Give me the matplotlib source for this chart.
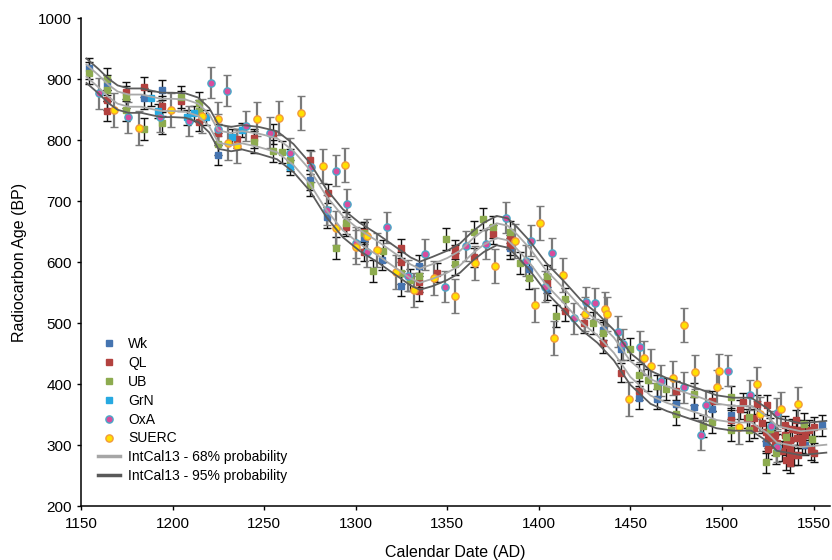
import numpy as np
import matplotlib
matplotlib.use("Agg")
import matplotlib.pyplot as plt
from matplotlib.lines import Line2D

plt.rcParams['font.family'] = ['Liberation Sans', 'DejaVu Sans']

# ---------------- data ----------------
# IntCal13 curve (centre) and 1-sigma
cal_years = [1153, 1159.5, 1165, 1170, 1176, 1183, 1189, 1194, 1200, 1207, 1214, 1220,
             1225, 1232, 1238, 1247, 1257, 1266, 1275, 1284, 1293, 1302, 1312, 1321,
             1330, 1335, 1342, 1350, 1357, 1364, 1370, 1377, 1383, 1388, 1395, 1404,
             1414, 1423, 1432, 1441, 1450, 1455, 1461, 1470, 1479, 1488, 1497, 1506,
             1516, 1525, 1530, 1543, 1557]
cal_bp = [914, 897, 881, 870, 865, 865, 861, 858, 858, 857, 850, 833,
          806, 802, 805, 800, 792, 771, 740, 697, 664, 642, 623, 604,
          585, 578, 585, 595, 607, 627, 641, 652, 648, 634, 611, 575,
          544, 514, 492, 464, 425, 412, 395, 383, 374, 365, 355, 351,
          351, 333, 318, 310, 314]
cal_sigma = [10, 10, 10, 10, 10, 10, 10, 10, 10, 10, 10, 10,
             10, 10, 10, 11, 11.5, 11.5, 11.5, 11.5, 11.5, 11.5, 11.5, 11.5,
             11.5, 11.5, 12, 12, 12, 12, 12, 12, 12, 12, 12, 12,
             12, 12, 12, 12.5, 13, 13.5, 13.5, 13.5, 13.5, 13.5, 13.5, 13.5,
             13.5, 13.5, 13.5, 13, 13]

wk_year = [1154.4, 1164.4, 1184.6, 1194.4, 1225.0, 1274.8, 1284.3, 1304.6, 1314.6, 1324.7,
           1334.3, 1384.4, 1394.4, 1404.5, 1434.9, 1444.9, 1454.5, 1464.6, 1475.1, 1485.0,
           1494.6, 1505.0, 1524.3, 1545.1, 1554.4]
wk_bp = [918, 890.7, 868.9, 882.5, 776, 735, 673.8, 639.3, 603.8, 561.1,
         594.4, 623, 588.5, 555.7, 489, 457.4, 377, 375.9, 367.7, 362.3,
         359, 349.7, 304.3, 300.5, 332.8]

ql_year = [1164.4, 1164.4, 1174.4, 1184.6, 1194.4, 1204.5, 1214.6, 1225.0, 1235.1, 1244.2,
           1254.8, 1275.1, 1284.8, 1294.6, 1304.6, 1304.6, 1324.7, 1324.7, 1334.3, 1334.3,
           1344.4, 1354.4, 1354.4, 1364.4, 1374.8, 1384.4, 1384.4, 1404.5, 1414.5, 1424.5,
           1434.9, 1444.9, 1454.5, 1475.1, 1494.6, 1505.0, 1510.1, 1511.4, 1513.9, 1517.4,
           1517.4, 1519.2, 1521.9, 1523.8, 1524.7, 1525.0, 1525.2, 1528.3, 1529.2, 1529.2,
           1530.2, 1533.0, 1534.3, 1534.3, 1534.8, 1534.8, 1535.6, 1536.9, 1537.0, 1537.0,
           1537.4, 1537.4, 1538.5, 1539.2, 1540.5, 1541.1, 1541.2, 1541.6, 1542.9, 1543.8,
           1543.8, 1545.1, 1547.4, 1548.4, 1550.2, 1550.2]
ql_bp = [866, 848, 879.7, 887, 856, 864.4, 830.5, 811.5, 802.6, 803.3,
         810.3, 767.7, 713, 658.4, 650.2, 617.4, 623, 601, 567.2, 553,
         583, 621.3, 612, 608.2, 645.9, 637.7, 628.4, 565.6, 520.2, 500,
         467.2, 419, 389.5, 389.5, 372.6, 341.5, 359, 370.5, 344.3, 327.9,
         344.3, 367.2, 336.1, 322.3, 366.1, 311.5, 293.9, 313.1, 300.5, 316.9,
         303.3, 290.7, 332.8, 317, 300.5, 275.9, 305.9, 270.5, 293.4, 281.3,
         308.7, 289.5, 326.7, 284.1, 341.5, 311.5, 325.1, 284.1, 325.1, 311.5,
         303.3, 316.9, 325.1, 292.3, 330.5, 287.9]

ub_year = [1154.4, 1164.4, 1164.4, 1174.4, 1174.4, 1184.6, 1194.4, 1204.5, 1214.6, 1214.6,
           1225.0, 1244.2, 1255.1, 1259.7, 1264.2, 1274.8, 1289.3, 1294.6, 1304.6, 1309.7,
           1314.9, 1324.7, 1329.4, 1334.3, 1349.5, 1354.4, 1364.4, 1369.5, 1374.8, 1384.4,
           1389.5, 1394.4, 1404.5, 1409.6, 1414.5, 1429.4, 1434.9, 1449.6, 1454.5, 1459.5,
           1464.6, 1469.7, 1475.1, 1485.0, 1489.5, 1494.6, 1505.0, 1505.0, 1514.6, 1515.0,
           1524.3, 1526.5, 1529.6, 1534.9, 1544.7, 1549.3]
ub_bp = [909.8, 900, 882.5, 870.5, 849.7, 818, 828.9, 870.5, 861.6, 848,
         793.4, 797.7, 782.5, 780.3, 767.7, 726.7, 623, 664, 648, 585.7,
         619, 582, 571, 578, 637.7, 597.2, 650.2, 670.5, 658.4, 650.2,
         599.3, 573.8, 577.5, 512, 539.3, 500, 483.6, 457.4, 415.2, 407,
         397.2, 391.8, 350.8, 384, 332.1, 338.7, 378.7, 325.1, 325.1, 345.9,
         273.1, 326.7, 286.9, 313.1, 334.9, 309.8]

grn_year = [1188.1, 1191.9, 1208.1, 1211.9, 1218.1, 1232.7, 1237.8, 1264.2]
grn_bp = [868.9, 848, 837.7, 844.3, 837.7, 805.9, 816.9, 755.7]

oxa_year = [1159.8, 1175.8, 1193.2, 1209.0, 1220.9, 1229.9, 1225.0, 1240.0, 1253.3, 1264.2,
            1275.7, 1284.3, 1289.2, 1295.2, 1300.1, 1306.1, 1317.0, 1328.3, 1338.0, 1348.9,
            1360.2, 1371.1, 1382.1, 1393.2, 1395.9, 1403.2, 1407.2, 1419.0, 1426.0, 1430.9,
            1443.3, 1446.0, 1455.1, 1466.9, 1479.1, 1488.3, 1491.4, 1503.2, 1515.2, 1527.0,
            1530.2, 1530.2]
oxa_bp = [877, 837.7, 838.7, 832, 894.4, 881.3, 818, 823.4, 812.5, 778.7,
          756.7, 685.7, 750.2, 695.6, 632.1, 617.4, 657.4, 578, 613, 560,
          626.7, 630, 673.1, 602.6, 635.4, 560, 614.8, 508.2, 534.4, 532.8,
          486.2, 465.6, 461.6, 405.9, 395, 316.9, 365.6, 422.3, 382.5, 331.6,
          352.5, 297.7]

suerc_year = [1168.0, 1181.9, 1199.0, 1216.0, 1225.0, 1230.2, 1235.1, 1246.0, 1258.2, 1270.1,
              1281.9, 1289.3, 1294.3, 1300.1, 1306.1, 1311.9, 1322.0, 1332.0, 1342.9, 1354.0,
              1364.9, 1376.2, 1387.2, 1398.1, 1400.8, 1408.1, 1413.2, 1425.0, 1436.0, 1437.3,
              1449.5, 1457.3, 1461.3, 1473.1, 1479.1, 1485.1, 1497.4, 1498.3, 1509.2, 1519.2,
              1521.0, 1532.1, 1541.4]
suerc_bp = [849.7, 819.7, 849.7, 839.3, 835, 795, 790.7, 834.4, 836, 844.3,
            758.4, 655.7, 759.5, 625.6, 643.1, 620.2, 583.6, 554.6, 574.8, 545.2,
            599.3, 594.4, 635.4, 530, 664.9, 475.4, 579.2, 515.2, 523, 514.8,
            375.4, 442.6, 430, 409.8, 497.2, 419.7, 395, 421.8, 330.5, 400.5,
            350.8, 359.5, 367.2]

# typical 1-sigma measurement errors per laboratory
lab_err = {"Wk": 17, "QL": 16, "UB": 18, "GrN": 12, "OxA": 25, "SUERC": 28}

x_ticks = [1150, 1200, 1250, 1300, 1350, 1400, 1450, 1500, 1550]
y_ticks = [200, 300, 400, 500, 600, 700, 800, 900, 1000]

# ---------------- styles ----------------
styles = {
    "Wk":    dict(marker='s', mfc='#4574b0', mec='#4574b0', ms=4.3, ecol='#111111', elw=1.0),
    "QL":    dict(marker='s', mfc='#b3423f', mec='#b3423f', ms=4.3, ecol='#111111', elw=1.0),
    "UB":    dict(marker='s', mfc='#8dab4f', mec='#8dab4f', ms=4.3, ecol='#111111', elw=1.0),
    "GrN":   dict(marker='s', mfc='#27a9e1', mec='#27a9e1', ms=4.3, ecol='#111111', elw=1.0),
    "OxA":   dict(marker='o', mfc='#d84c9c', mec='#4aa8c8', ms=5.2, ecol='#7a7a7a', elw=1.6),
    "SUERC": dict(marker='o', mfc='#ffe000', mec='#f29a3a', ms=5.2, ecol='#7a7a7a', elw=1.6),
}

fig = plt.figure(figsize=(8.32, 5.6), dpi=100)
ax = fig.add_axes([81/832, 1 - 506.3/560, 749/832, 488/560])

series = [("Wk", wk_year, wk_bp), ("QL", ql_year, ql_bp), ("UB", ub_year, ub_bp),
          ("GrN", grn_year, grn_bp), ("OxA", oxa_year, oxa_bp), ("SUERC", suerc_year, suerc_bp)]

for z, (name, xs, ys) in enumerate(series):
    st = styles[name]
    err = [lab_err[name]] * len(xs)
    cont = ax.errorbar(xs, ys, yerr=err, fmt='none', ecolor=st['ecol'],
                       elinewidth=st['elw'], capsize=2.8, capthick=1.0, zorder=2 + z * 0.1)
    for cl in cont[1]:
        cl.set_color('#222222')
for z, (name, xs, ys) in enumerate(series):
    st = styles[name]
    ax.plot(xs, ys, linestyle='none', marker=st['marker'], mfc=st['mfc'], mec=st['mec'],
            mew=1.0, ms=st['ms'], zorder=3 + z * 0.1)

cy = np.array(cal_years)
cb = np.array(cal_bp)
cs = np.array(cal_sigma)
for k in (1, -1):
    ax.plot(cy, cb + k * cs, color='#a9a9a9', lw=1.3, zorder=5)
    ax.plot(cy, cb + k * 2 * cs, color='#5c5c5c', lw=1.3, zorder=5)

ax.set_xlim(1150, 1559)
ax.set_ylim(200, 1000)
ax.set_xticks(x_ticks)
ax.set_yticks(y_ticks)
ax.tick_params(axis='both', direction='out', length=3, width=1, labelsize=11, colors='black')
ax.tick_params(axis='x', pad=5)
for s in ('top', 'right'):
    ax.spines[s].set_visible(False)
for s in ('left', 'bottom'):
    ax.spines[s].set_linewidth(1.1)
ax.set_xlabel('Calendar Date (AD)', fontsize=11.5, labelpad=10)
ax.set_ylabel('Radiocarbon Age (BP)', fontsize=11.5, labelpad=8)

handles = []
for name in ["Wk", "QL", "UB", "GrN", "OxA", "SUERC"]:
    st = styles[name]
    handles.append(Line2D([], [], linestyle='none', marker=st['marker'], mfc=st['mfc'],
                          mec=st['mec'], mew=1.0, ms=st['ms'], label=name))
handles.append(Line2D([], [], color='#a6a6a6', lw=2.5, label='IntCal13 - 68% probability'))
handles.append(Line2D([], [], color='#595959', lw=2.5, label='IntCal13 - 95% probability'))
ax.legend(handles=handles, loc='upper left', bbox_to_anchor=(0.015, 0.358), frameon=False,
          fontsize=10, handlelength=1.6, handletextpad=0.6, labelspacing=0.35,
          borderaxespad=0)

fig.savefig('out.png', dpi=100)
